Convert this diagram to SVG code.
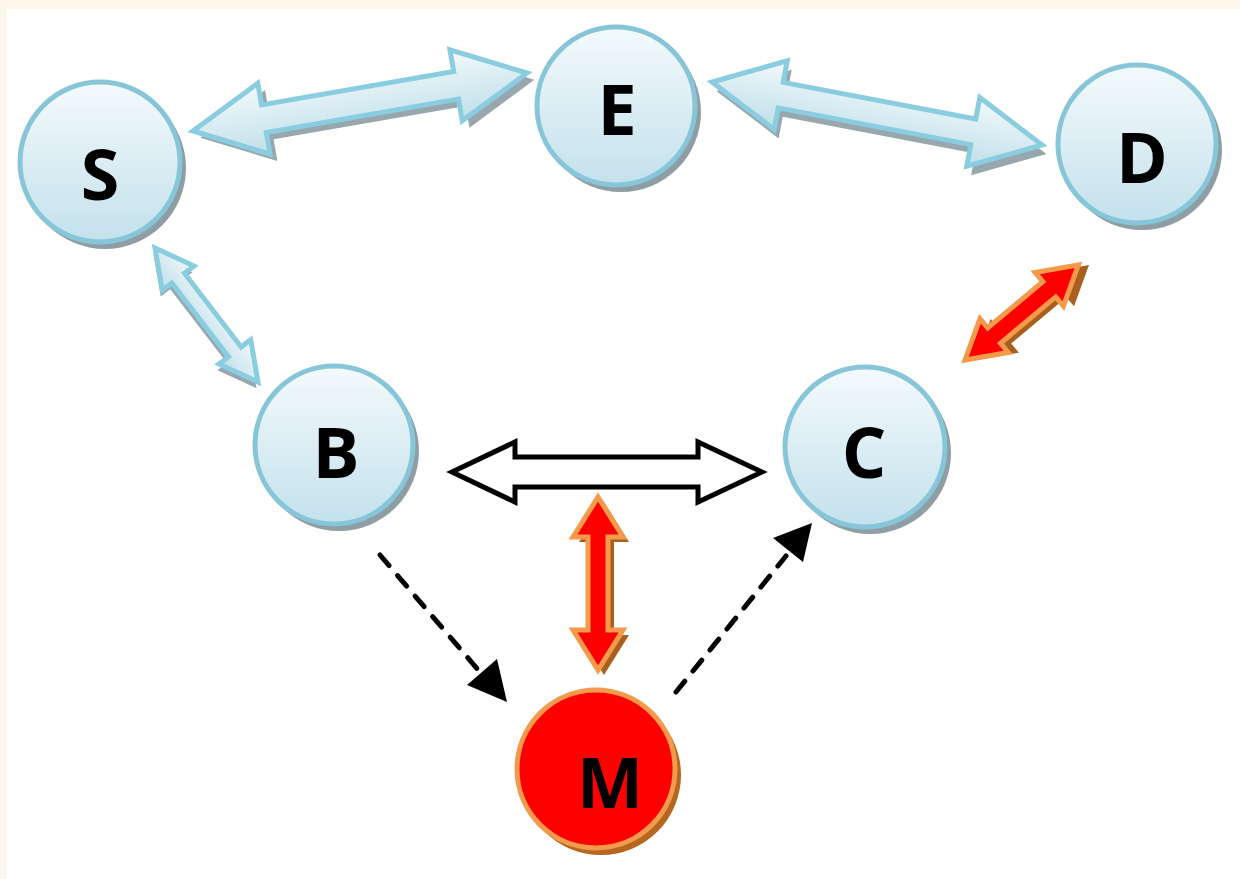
<svg xmlns="http://www.w3.org/2000/svg" width="1240" height="879" viewBox="0 0 1240 879">
<defs>
<linearGradient id="nodeG" x1="0" y1="0" x2="0" y2="1">
<stop offset="0" stop-color="#f4fafc"/>
<stop offset="1" stop-color="#c3e1ec"/>
</linearGradient>
<linearGradient id="arrG" x1="0" y1="0" x2="0" y2="1">
<stop offset="0" stop-color="#f2f9fb"/>
<stop offset="1" stop-color="#bfdfea"/>
</linearGradient>
</defs>
<style>
.node{fill:url(#nodeG);stroke:#86c6d8;stroke-width:5}
.nshadow{fill:#8f9ea4}
.mnode{fill:#ff0000;stroke:#f39a4c;stroke-width:5}
.mshadow{fill:#b5661f}
.lbl{font-family:"Open Sans","Liberation Sans",sans-serif;font-weight:bold;font-size:70px;fill:#000;text-anchor:middle}
.barr{fill:url(#arrG);stroke:#8acde0;stroke-width:5;stroke-linejoin:miter}
.bshadow{fill:#98a7ad}
.rarr{fill:#ff0000;stroke:#f59a4a;stroke-width:5}
.rshadow{fill:#a9601e}
.warr{fill:#fff;stroke:#000;stroke-width:5}
.dash{fill:none;stroke:#000;stroke-width:5;stroke-dasharray:14 13;stroke-linecap:round}
</style>
<rect x="0" y="0" width="1240" height="879" fill="#ffffff"/>
<rect x="0" y="0" width="1240" height="9" fill="#fdf8ec"/>
<rect x="0" y="0" width="7" height="879" fill="#faf7ee"/>

<g id="connectors">
  <g transform="translate(193,131) rotate(-9.85)">
    <path class="bshadow" transform="translate(6,8)" d="M0,0 L72,-36 L72,-14 L267,-14 L267,-36 L339,0 L267,36 L267,14 L72,14 L72,36 Z"/>
    <path class="barr" d="M0,0 L72,-36 L72,-14 L267,-14 L267,-36 L339,0 L267,36 L267,14 L72,14 L72,36 Z"/>
  </g>
  <g transform="translate(712,82) rotate(10.8)">
    <path class="bshadow" transform="translate(6,8)" d="M0,0 L70,-35 L70,-13 L266,-13 L266,-35 L336,0 L266,35 L266,13 L70,13 L70,35 Z"/>
    <path class="barr" d="M0,0 L70,-35 L70,-13 L266,-13 L266,-35 L336,0 L266,35 L266,13 L70,13 L70,35 Z"/>
  </g>
  <g transform="translate(155,248) rotate(52.45)">
    <path class="bshadow" transform="translate(4,5)" d="M0,0 L38,-20 L38,-8 L131,-8 L131,-20 L169,0 L131,20 L131,8 L38,8 L38,20 Z"/>
    <path class="barr" d="M0,0 L38,-20 L38,-8 L131,-8 L131,-20 L169,0 L131,20 L131,8 L38,8 L38,20 Z"/>
  </g>
  <g transform="translate(965,360) rotate(-40)">
    <path class="rshadow" transform="translate(8,7)" d="M0,0 L38,-22 L38,-10 L110,-10 L110,-22 L148,0 L110,22 L110,10 L38,10 L38,22 Z"/>
    <path class="rarr" d="M0,0 L38,-22 L38,-10 L110,-10 L110,-22 L148,0 L110,22 L110,10 L38,10 L38,22 Z"/>
  </g>
  <path class="warr" d="M452,472 L515,442 L515,457 L698,457 L698,442 L762,472 L698,502 L698,487 L515,487 L515,502 Z"/>
  <g transform="translate(598,497) rotate(90)">
    <path class="rshadow" transform="translate(5,-6)" d="M0,0 L40,-25 L40,-10 L133,-10 L133,-25 L173,0 L133,25 L133,10 L40,10 L40,25 Z"/>
    <path class="rarr" d="M0,0 L40,-25 L40,-10 L133,-10 L133,-25 L173,0 L133,25 L133,10 L40,10 L40,25 Z"/>
  </g>
  <line class="dash" x1="380" y1="555" x2="480" y2="672"/>
  <path d="M507,702 L467,685 L497,659 Z" fill="#000"/>
  <line class="dash" x1="676" y1="692" x2="786" y2="556"/>
  <path d="M812,523 L773,538 L803,562 Z" fill="#000"/>
</g>

<g id="node-S">
  <circle class="nshadow" cx="105" cy="168" r="81"/>
  <circle class="node" cx="100" cy="162" r="80"/>
  <text class="lbl" x="100" y="200">S</text>
</g>
<g id="node-E">
  <circle class="nshadow" cx="621" cy="112" r="80"/>
  <circle class="node" cx="616" cy="106" r="79"/>
  <text class="lbl" x="617" y="135">E</text>
</g>
<g id="node-D">
  <circle class="nshadow" cx="1142" cy="150" r="80"/>
  <circle class="node" cx="1137" cy="144" r="79"/>
  <text class="lbl" x="1142" y="183">D</text>
</g>
<g id="node-B">
  <circle class="nshadow" cx="339" cy="451" r="80"/>
  <circle class="node" cx="334" cy="445" r="79"/>
  <text class="lbl" x="336" y="478">B</text>
</g>
<g id="node-C">
  <circle class="nshadow" cx="870" cy="453" r="81"/>
  <circle class="node" cx="865" cy="447" r="80"/>
  <text class="lbl" x="864" y="478">C</text>
</g>
<g id="node-M">
  <circle class="mshadow" cx="601" cy="775" r="80"/>
  <circle class="mnode" cx="596" cy="769" r="79"/>
  <text class="lbl" x="610" y="808">M</text>
</g>
</svg>
